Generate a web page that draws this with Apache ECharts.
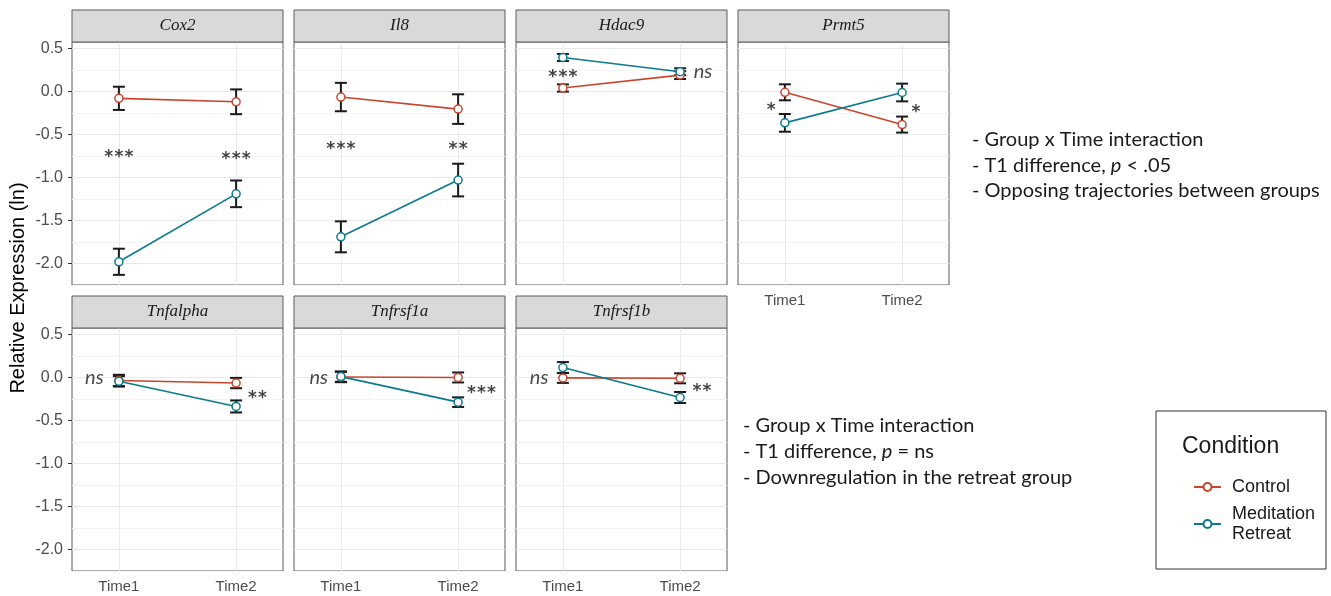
<!DOCTYPE html>
<html><head><meta charset="utf-8">
<script src="https://cdn.jsdelivr.net/npm/echarts@6/dist/echarts.min.js"></script>
<style>html,body{margin:0;padding:0;background:#fff}#c{width:1331px;height:596px}</style>
</head><body><div id="c"></div>
<script>
// ---------------- data ----------------
const genes = ['Cox2','Il8','Hdac9','Prmt5','Tnfalpha','Tnfrsf1a','Tnfrsf1b'];
const timeLabels = ['Time1','Time2'];
const conditions = ['Control','Meditation Retreat'];
const controlMean = [[-0.08,-0.12],[-0.065,-0.205],[0.04,0.19],[-0.01,-0.385],[-0.035,-0.065],[0.005,0.0],[-0.005,-0.01]];
const controlSE   = [[0.135,0.144],[0.165,0.172],[0.042,0.045],[0.093,0.093],[0.066,0.06],[0.06,0.058],[0.058,0.058]];
const retreatMean = [[-1.98,-1.19],[-1.69,-1.03],[0.395,0.23],[-0.365,-0.012],[-0.045,-0.337],[0.01,-0.287],[0.115,-0.233]];
const retreatSE   = [[0.152,0.155],[0.18,0.19],[0.041,0.04],[0.103,0.103],[0.06,0.07],[0.06,0.056],[0.064,0.064]];
const yTicks = [-2.0,-1.5,-1.0,-0.5,0.0,0.5];
// gene index, x (time position), y, text, alignment
const annotations = [
  [0,1,-0.73,'***','center'], [0,2,-0.76,'***','center'],
  [1,1,-0.645,'***','center'], [1,2,-0.645,'**','center'],
  [2,1,0.2,'***','center'], [2,2.116,0.233,'ns','left'],
  [3,0.883,-0.19,'*','center'], [3,2.117,-0.21,'*','center'],
  [4,0.87,0.0,'ns','right'], [4,2.096,-0.21,'**','left'],
  [5,0.89,0.0,'ns','right'], [5,2.07,-0.156,'***','left'],
  [6,0.877,0.0,'ns','right'], [6,2.1,-0.128,'**','left']
];
const noteTop = ['- Group x Time interaction','- T1 difference, {i|p} < .05','- Opposing trajectories between groups'];
const noteBottom = ['- Group x Time interaction','- T1 difference, {i|p} = ns','- Downregulation in the retreat group'];

// ---------------- layout / style ----------------
const PW = 211, PH = 243, STRIP = 32, COL0 = 72, COLSTEP = 222, ROW0 = 42, ROWSTEP = 286;
const Y_MIN = -2.25, Y_MAX = 0.575;
const colors = ['#C8452D', '#0B7A8C'];
const border = '#5a5a5a';
const font = 'Liberation Sans';
const noteFont = 'Lato';

const grid = [], xAxis = [], yAxis = [], series = [], graphic = [];
const means = [controlMean, retreatMean];
const ses = [controlSE, retreatSE];

genes.forEach((g, i) => {
  const row = i < 4 ? 0 : 1;
  const col = i < 4 ? i : i - 4;
  const left = COL0 + col * COLSTEP;
  const top = ROW0 + row * ROWSTEP;
  grid.push({left: left, top: top, width: PW, height: PH, show: true, borderColor: border, borderWidth: 1, backgroundColor: 'transparent', containLabel: false});
  const showX = row === 1 || i === 3;
  xAxis.push({
    gridIndex: i, type: 'value', min: 0.6, max: 2.4,
    axisLine: {show: false},
    axisTick: {show: showX, customValues: [1, 2], length: 4, lineStyle: {color: '#333', width: 1}},
    axisLabel: {show: showX, customValues: [1, 2], formatter: v => timeLabels[Math.round(v) - 1], color: '#4d4d4d', fontSize: 15, fontFamily: font, margin: 8},
    splitLine: {show: true, lineStyle: {color: '#ebebeb', width: 1}}
  });
  const mainY = yAxis.length;
  yAxis.push({
    gridIndex: i, type: 'value', min: Y_MIN, max: Y_MAX, interval: 0.25, position: 'left',
    axisLine: {show: false}, axisTick: {show: false}, axisLabel: {show: false},
    splitLine: {show: true, showMaxLine: false, lineStyle: {color: ['#f4f4f4', '#e9e9e9'], width: 1}}
  });
  if (col === 0) {
    yAxis.push({
      gridIndex: i, type: 'value', min: Y_MIN, max: Y_MAX, position: 'left',
      axisLine: {show: false},
      axisTick: {show: true, customValues: yTicks, length: 4, lineStyle: {color: '#333'}},
      axisLabel: {show: true, customValues: yTicks, formatter: v => v.toFixed(1), color: '#4d4d4d', fontSize: 16, fontFamily: font, margin: 9},
      splitLine: {show: false}
    });
  }
  // error bars
  [0, 1].forEach(c => {
    series.push({
      type: 'custom', name: 'err' + c, xAxisIndex: i, yAxisIndex: mainY, z: 1,
      encode: {x: 0, y: [1, 2]},
      data: [0, 1].map(t => [t + 1, means[c][i][t] - ses[c][i][t], means[c][i][t] + ses[c][i][t]]),
      renderItem: (params, api) => {
        const x = api.value(0), lo = api.value(1), hi = api.value(2);
        const a = api.coord([x, hi]), b = api.coord([x, lo]);
        const w = 6;
        const st = {stroke: '#1a1a1a', lineWidth: 2};
        return {type: 'group', children: [
          {type: 'line', shape: {x1: a[0], y1: a[1], x2: b[0], y2: b[1]}, style: st},
          {type: 'line', shape: {x1: a[0] - w, y1: a[1], x2: a[0] + w, y2: a[1]}, style: st},
          {type: 'line', shape: {x1: b[0] - w, y1: b[1], x2: b[0] + w, y2: b[1]}, style: st}
        ]};
      },
      silent: true
    });
  });
  // lines + points
  [0, 1].forEach(c => {
    series.push({
      type: 'line', name: conditions[c], xAxisIndex: i, yAxisIndex: mainY, z: 3,
      data: [0, 1].map(t => [t + 1, means[c][i][t]]),
      symbol: 'circle', symbolSize: 8, showSymbol: true,
      itemStyle: {color: '#ffffff', borderColor: colors[c], borderWidth: 1.5},
      lineStyle: {color: colors[c], width: 1.6},
      emphasis: {disabled: true}, animation: false
    });
  });
  // annotations
  const ann = annotations.filter(a => a[0] === i);
  series.push({
    type: 'scatter', name: 'ann' + i, xAxisIndex: i, yAxisIndex: mainY, z: 4, silent: true,
    symbolSize: 0,
    data: ann.map(a => {
      const isNs = a[3] === 'ns';
      return {
        value: [a[1], a[2]],
        label: {
          show: true, position: 'inside',
          formatter: isNs ? a[3] : a[3].split('').map(s => '{s|' + s + '}').join(''),
          align: a[4], verticalAlign: 'middle',
          fontSize: isNs ? 20 : 17, fontFamily: isNs ? noteFont : 'DejaVu Sans', fontStyle: isNs ? 'italic' : 'normal',
          color: '#1a1a1a', offset: isNs ? [0, 0] : [0, 3],
          rich: {s: {fontSize: 17, fontFamily: 'DejaVu Sans', fontWeight: 'bold', color: '#111', padding: [0, 0.6, 0, 0.6]}}
        }
      };
    })
  });
  // strip
  graphic.push({type: 'rect', shape: {x: left, y: top - STRIP, width: PW, height: STRIP}, style: {fill: '#d9d9d9', stroke: border, lineWidth: 1}, z: 10});
  graphic.push({type: 'text', x: left + PW / 2, y: top - STRIP / 2, style: {text: g, fontSize: 17, fontFamily: 'Liberation Serif', fontStyle: 'italic', fill: '#1a1a1a', align: 'center', verticalAlign: 'middle'}, z: 11});
});

// y title
graphic.push({type: 'text', x: 18, y: 288, rotation: Math.PI / 2, style: {text: 'Relative Expression (ln)', fontSize: 20, fontFamily: font, fill: '#000', align: 'center', verticalAlign: 'middle'}});
// notes
const noteRich = {i: {fontStyle: 'italic', fontSize: 20, fontFamily: noteFont, fill: '#1a1a1a'}};
noteTop.forEach((t, k) => graphic.push({type: 'text', x: 972, y: 140 + k * 25.5, style: {text: t, rich: noteRich, fontSize: 20, fontFamily: noteFont, fill: '#1a1a1a', align: 'left', verticalAlign: 'middle'}}));
noteBottom.forEach((t, k) => graphic.push({type: 'text', x: 743, y: 426 + k * 26, style: {text: t, rich: noteRich, fontSize: 20, fontFamily: noteFont, fill: '#1a1a1a', align: 'left', verticalAlign: 'middle'}}));
// legend box + title
graphic.push({type: 'rect', shape: {x: 1156, y: 411, width: 170, height: 158}, style: {fill: 'none', stroke: '#333', lineWidth: 1}});
graphic.push({type: 'text', x: 1182, y: 447, style: {text: 'Condition', fontSize: 23, fontFamily: font, fill: '#1a1a1a', align: 'left', verticalAlign: 'middle'}});

const chart = echarts.init(document.getElementById('c'), null, {renderer: 'canvas'});
chart.setOption({
  animation: false,
  backgroundColor: '#ffffff',
  grid, xAxis, yAxis, series, graphic,
  legend: {
    data: conditions, orient: 'vertical', left: 1188, top: 472,
    itemWidth: 27, itemHeight: 10, itemGap: 7,
    formatter: n => n === 'Meditation Retreat' ? 'Meditation\nRetreat' : n,
    textStyle: {fontSize: 18, fontFamily: font, color: '#1a1a1a', lineHeight: 20, padding: [0, 0, 0, 6]}
  }
});
</script></body></html>
